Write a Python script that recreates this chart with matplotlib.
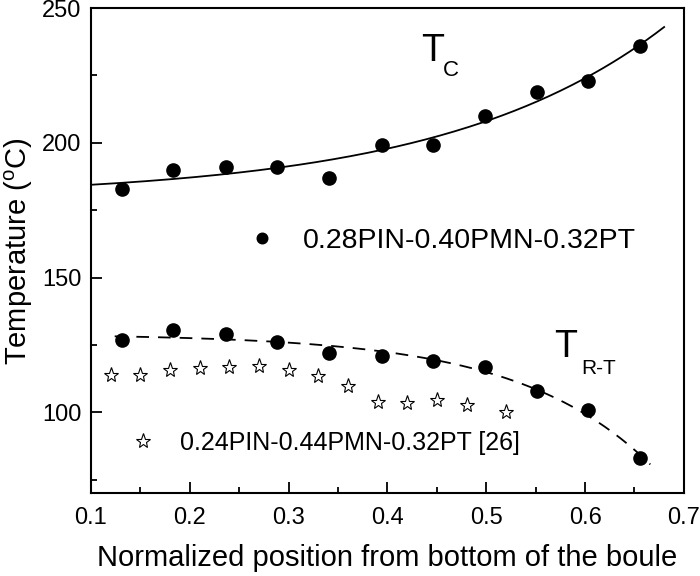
import numpy as np
import matplotlib.pyplot as plt
from matplotlib.ticker import MultipleLocator

plt.rcParams['font.family'] = ['Liberation Sans', 'DejaVu Sans']

# measured points of the boule (filled circles)
pos = [0.131, 0.183, 0.237, 0.288, 0.341, 0.394, 0.446, 0.499, 0.551, 0.603, 0.656]
t_c = [183.0, 190.0, 191.0, 191.0, 187.0, 199.0, 199.0, 210.0, 219.0, 223.0, 236.0]
t_rt = [126.7, 130.7, 128.9, 125.9, 121.9, 120.7, 118.9, 116.7, 107.8, 100.7, 83.0]

# reference composition [26] (open stars)
pos_ref = [0.12, 0.15, 0.18, 0.21, 0.24, 0.27, 0.30, 0.33, 0.36, 0.39, 0.42, 0.45, 0.48, 0.52]
t_ref = [113.8, 113.8, 115.6, 116.3, 116.7, 117.0, 115.6, 113.4, 109.8, 103.7, 103.3, 104.5, 102.7, 100.2]

label_main = "0.28PIN-0.40PMN-0.32PT"
label_ref = "0.24PIN-0.44PMN-0.32PT [26]"


def exp_fit(x, y):
    # y = y0 + A*exp(x/t), best t from a grid, y0 and A by least squares
    x = np.asarray(x)
    y = np.asarray(y)
    best = None
    for t in np.linspace(0.03, 1.0, 500):
        M = np.column_stack([np.ones_like(x), np.exp(x / t)])
        coef, res, _, _ = np.linalg.lstsq(M, y, rcond=None)
        err = np.sum((M @ coef - y) ** 2)
        if best is None or err < best[0]:
            best = (err, t, coef)
    _, t, (y0, a) = best
    return lambda xx: y0 + a * np.exp(xx / t)


fig = plt.figure(figsize=(7, 5.76), dpi=100)
ax = fig.add_axes([0.130, 0.144, 0.847, 0.842])

# fitted curves
xc = np.linspace(0.1, 0.68, 200)
ax.plot(xc, exp_fit(pos, t_c)(xc), color='black', lw=1.3)
xr = np.linspace(0.124, 0.666, 200)
ax.plot(xr, exp_fit(pos, t_rt)(xr), color='black', lw=1.3, linestyle=(0, (7, 5)))

h1, = ax.plot(pos, t_c, 'o', color='black', ms=9.5, label=label_main)
ax.plot(pos, t_rt, 'o', color='black', ms=9.5)
h2, = ax.plot(pos_ref, t_ref, '*', mfc='white', mec='black', mew=0.8, ms=11,
              linestyle='none', label=label_ref)

ax.text(0.434, 230.4, "T", fontsize=27, ha='left', va='baseline')
ax.text(0.456, 224.8, "C", fontsize=16, ha='left', va='baseline')
ax.text(0.569, 120.4, "T", fontsize=27, ha='left', va='baseline')
ax.text(0.596, 114.1, "R-T", fontsize=15, ha='left', va='baseline')

leg1 = ax.legend(handles=[h1], loc='center left', bbox_to_anchor=(0.265, 0.52),
                 frameon=False, fontsize=20.5, handlelength=1.0, handletextpad=0.93,
                 borderpad=0, borderaxespad=0, numpoints=1, markerscale=0.8)
ax.add_artist(leg1)
ax.legend(handles=[h2], loc='center left', bbox_to_anchor=(0.0666, 0.103),
          frameon=False, fontsize=18, handlelength=1.0, handletextpad=0.98,
          borderpad=0, borderaxespad=0, numpoints=1)

ax.set_xlim(0.1, 0.7)
ax.set_ylim(70, 250)
ax.xaxis.set_major_locator(MultipleLocator(0.1))
ax.xaxis.set_minor_locator(MultipleLocator(0.05))
ax.yaxis.set_major_locator(MultipleLocator(50))
ax.yaxis.set_minor_locator(MultipleLocator(25))
ax.tick_params(which='both', direction='in', width=1.3, labelsize=17)
ax.tick_params(which='major', length=8)
ax.tick_params(which='minor', length=4.5)
ax.tick_params(axis='x', which='major', pad=10)
ax.tick_params(axis='y', which='major', pad=7)
for s in ax.spines.values():
    s.set_linewidth(1.5)

ax.set_xlabel("Normalized position from bottom of the boule", fontsize=21, labelpad=11)
ax.set_ylabel("Temperature ($\\mathregular{^o}$C)", fontsize=21, labelpad=5)

fig.savefig("out.png", dpi=100)
